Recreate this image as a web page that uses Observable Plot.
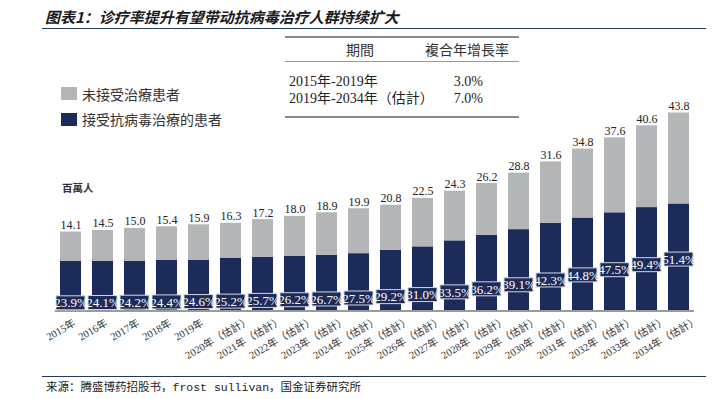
<!DOCTYPE html>
<html>
<head>
<meta charset="utf-8">
<script src="https://cdn.jsdelivr.net/npm/d3@7"></script>
<script src="https://cdn.jsdelivr.net/npm/@observablehq/plot@0.6"></script>
<style>
  html, body { margin: 0; padding: 0; background: #fff; }
  #wrap { position: relative; width: 726px; height: 399px; overflow: hidden; }
  #chart { position: absolute; left: 0; top: 0; }
  .abs { position: absolute; white-space: nowrap; line-height: 1; transform: translateY(-50%); }
  .hline { position: absolute; height: 0; }
</style>
</head>
<body>
<div id="wrap">
  <div id="chart"></div>
</div>
<script>
// ---- data ----
const years = ["2015年","2016年","2017年","2018年","2019年",
  "2020年（估計）","2021年（估計）","2022年（估計）","2023年（估計）","2024年（估計）",
  "2025年（估計）","2026年（估計）","2027年（估計）","2028年（估計）","2029年（估計）",
  "2030年（估計）","2031年（估計）","2032年（估計）","2033年（估計）","2034年（估計）"];
const totalPatients = [14.1,14.5,15.0,15.4,15.9,16.3,17.2,18.0,18.9,19.9,20.8,22.5,24.3,26.2,28.8,31.6,34.8,37.6,40.6,43.8];
const treatedShare = [23.9,24.1,24.2,24.4,24.6,25.2,25.7,26.2,26.7,27.5,29.2,31.0,33.5,36.2,39.1,42.3,44.8,47.5,49.4,51.4];
// dark segment heights as drawn in the reference (value units)
const treatedBar = [6.8,6.8,6.8,7.0,7.0,7.6,7.8,8.0,8.3,8.7,9.5,10.4,11.9,13.3,14.7,16.3,17.6,18.9,20.2,21.1];
const legendLabels = ["未接受治療患者","接受抗病毒治療的患者"];
const cagrPeriods = ["2015年-2019年","2019年-2034年（估計）"];
const cagrValues = ["3.0%","7.0%"];
const unitLabel = "百萬人";
const titleText = "图表1：诊疗率提升有望带动抗病毒治疗人群持续扩大";
const sourceText = "来源：腾盛博药招股书，frost sullivan，国金证券研究所";

const GRAY = "#b3b5b6";
const NAVY = "#1c2b5a";
const BASE = -5.6; // value where the category axis sits

const data = years.map((y, i) => ({
  year: y,
  est: y.includes("估計"),
  total: totalPatients[i],
  dark: treatedBar[i],
  share: treatedShare[i],
  labelY: BASE + 0.57 * totalPatients[i] * treatedShare[i] / 100
}));

const plot = Plot.plot({
  width: 726,
  height: 399,
  marginLeft: 48.7,
  marginRight: 26,
  marginTop: 111.7,
  marginBottom: 88.5,
  x: { domain: years, padding: 0.33, axis: null },
  y: { domain: [BASE, 44], axis: null },
  style: { background: "transparent" },
  marks: [
    Plot.barY(data, { x: "year", y1: BASE, y2: "dark", fill: NAVY }),
    Plot.barY(data, { x: "year", y1: "dark", y2: "total", fill: GRAY }),
    Plot.ruleY([BASE], { stroke: "#9a9a9a", strokeWidth: 2, insetLeft: 6, insetRight: 6 }),
    Plot.text(data, {
      x: "year", y: "total", text: d => d.total.toFixed(1),
      dy: -3, lineAnchor: "bottom", fontSize: 12,
      fontFamily: "Liberation Serif, serif", fill: "#222"
    }),
    Plot.barY(data, {
      x: "year", y1: "labelY", y2: "labelY",
      insetTop: -7, insetBottom: -7, insetLeft: -4, insetRight: -4,
      fill: NAVY, stroke: "#d5d8de", strokeWidth: 1
    }),
    Plot.text(data, {
      x: "year", y: "labelY", text: d => d.share.toFixed(1) + "%",
      fontSize: 13, fontFamily: "Liberation Serif, serif", fill: "#fff",
      ariaLabel: "pct"
    }),
    Plot.text(data.filter(d => !d.est), {
      x: "year", y: BASE, text: "year", rotate: -30, textAnchor: "middle",
      dx: -10, dy: 19, fontSize: 10.5, fontFamily: "Liberation Serif, Noto Sans CJK TC, serif", fill: "#333"
    }),
    Plot.text(data.filter(d => d.est), {
      x: "year", y: BASE, text: "year", rotate: -30, textAnchor: "middle",
      dx: -13, dy: 27, fontSize: 10.5, fontFamily: "Liberation Serif, Noto Sans CJK TC, serif", fill: "#333"
    })
  ]
});
document.getElementById("chart").appendChild(plot);
plot.querySelectorAll('g[aria-label="pct"] text').forEach(t => {
  t.setAttribute("textLength", "28");
  t.setAttribute("lengthAdjust", "spacingAndGlyphs");
});

// ---- annotations ----
const wrap = document.getElementById("wrap");
function addText(txt, x, y, style) {
  const d = document.createElement("div");
  d.className = "abs";
  d.textContent = txt;
  d.style.left = x + "px";
  d.style.top = y + "px";
  Object.assign(d.style, style || {});
  wrap.appendChild(d);
  return d;
}
function addLine(x1, x2, y, color, w) {
  const d = document.createElement("div");
  d.className = "hline";
  d.style.left = x1 + "px";
  d.style.width = (x2 - x1) + "px";
  d.style.top = (y - w / 2) + "px";
  d.style.borderTop = w + "px solid " + color;
  wrap.appendChild(d);
}
function addBox(x, y, w, h, color) {
  const d = document.createElement("div");
  Object.assign(d.style, { position: "absolute", left: x + "px", top: y + "px", width: w + "px", height: h + "px", background: color });
  wrap.appendChild(d);
}

// title
addText(titleText, 45, 16, { fontFamily: "'Noto Sans CJK SC', sans-serif", fontSize: "15px", fontWeight: "bold", fontStyle: "italic", color: "#1a1a1a" });
addLine(42, 706, 29, "#1f3a63", 1.5);

// CAGR table
addLine(285, 519, 37, "#8a8a8a", 2);
addLine(285, 519, 62, "#9a9a9a", 1.5);
addLine(285, 519, 117, "#8a8a8a", 2);
const th = { fontFamily: "'Noto Sans CJK TC', sans-serif", fontSize: "14px", color: "#333" };
const h1 = addText("期間", 360, 49, th); h1.style.transform = "translate(-50%,-50%)";
addText("複合年增長率", 425, 49, th);
const tr = { fontFamily: "'Liberation Serif', 'Noto Sans CJK TC', serif", fontSize: "14px", color: "#222" };
cagrPeriods.forEach((p, i) => {
  addText(p, 289, 82 + i * 17, tr);
  const v = addText(cagrValues[i], 483, 82 + i * 17, tr);
  v.style.transform = "translate(-100%,-50%)";
});

// legend
const legendColors = [GRAY, NAVY];
legendLabels.forEach((l, i) => {
  addBox(61, 87 + i * 25.5, 16, 13, legendColors[i]);
  addText(l, 82, 93.5 + i * 25.5, { fontFamily: "'Noto Sans CJK TC', sans-serif", fontSize: "14px", color: "#333" });
});
addText(unitLabel, 62, 188, { fontFamily: "'Noto Sans CJK TC', sans-serif", fontSize: "10.5px", fontWeight: "bold", color: "#333" });

// source
addLine(42, 706, 376.5, "#1f3a63", 1.5);
addText(sourceText, 46, 388, { fontFamily: "'Liberation Mono', 'Noto Sans CJK SC', monospace", fontSize: "11.5px", color: "#222" });
</script>
</body>
</html>
